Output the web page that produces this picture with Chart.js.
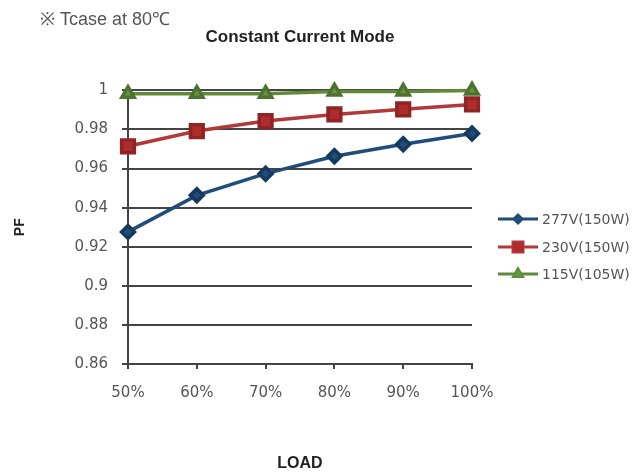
<!DOCTYPE html>
<html>
<head>
<meta charset="utf-8">
<script src="https://cdn.jsdelivr.net/npm/chart.js@4"></script>
<style>
  html, body { margin: 0; padding: 0; background: #fff; }
  #wrap { width: 643px; height: 475px; }
</style>
</head>
<body>
<div id="wrap"><canvas id="chart"></canvas></div>
<script>
const loads = ['50%', '60%', '70%', '80%', '90%', '100%'];
const pf277 = [0.9276, 0.9463, 0.9574, 0.9663, 0.9724, 0.9779];
const pf230 = [0.9714, 0.9792, 0.9843, 0.9877, 0.9903, 0.9928];
const pf115 = [0.9983, 0.9983, 0.9983, 0.9995, 0.9995, 1.0];
const seriesNames = ['277V(150W)', '230V(150W)', '115V(105W)'];
const noteText = '※ Tcase at 80℃';

const gridColor = '#444';

// note in the corner + legend drawn as line with marker, like the original
const extras = {
  id: 'extras',
  afterDraw(chart) {
    const ctx = chart.ctx;
    ctx.save();
    ctx.fillStyle = '#555';
    ctx.font = '18px "Liberation Sans", Arial, sans-serif';
    ctx.textBaseline = 'middle';
    ctx.textAlign = 'left';
    ctx.fillText(noteText, 40, 20);

    const rows = [219, 247, 274];
    chart.data.datasets.forEach((ds, i) => {
      const y = rows[i];
      ctx.strokeStyle = ds.borderColor;
      ctx.lineWidth = 3;
      ctx.beginPath();
      ctx.moveTo(498, y);
      ctx.lineTo(538, y);
      ctx.stroke();
      Chart.helpers.drawPoint(ctx, {
        pointStyle: ds.pointStyle,
        radius: ds.legendRadius,
        borderWidth: 1
      }, 518, y);
      ctx.fillStyle = ds.pointBackgroundColor;
      ctx.strokeStyle = ds.pointBorderColor;
      ctx.fill();
      ctx.fillStyle = '#555';
      ctx.font = '14px "DejaVu Sans", sans-serif';
      ctx.fillText(ds.label, 542, y + 1);
    });
    ctx.restore();
  }
};

new Chart(document.getElementById('chart'), {
  type: 'line',
  data: {
    labels: loads,
    datasets: [
      {
        label: seriesNames[0], data: pf277,
        borderColor: '#1f4c78', backgroundColor: '#1f4c78',
        pointBackgroundColor: '#1f4c78', pointBorderColor: '#163a5e',
        pointStyle: 'rectRot', pointRadius: 6.5, legendRadius: 4,
        borderWidth: 3.5, tension: 0, clip: false
      },
      {
        label: seriesNames[1], data: pf230,
        borderColor: '#b33838', backgroundColor: '#b33838',
        pointBackgroundColor: '#b02c2c', pointBorderColor: '#8e2424',
        pointStyle: 'rect', pointRadius: 9, legendRadius: 7,
        borderWidth: 3.5, tension: 0, clip: false
      },
      {
        label: seriesNames[2], data: pf115,
        borderColor: '#5f8a3a', backgroundColor: '#5f8a3a',
        pointBackgroundColor: '#6a933f', pointBorderColor: '#4d7230',
        pointStyle: 'triangle', pointRadius: 7, legendRadius: 5,
        borderWidth: 3.5, tension: 0, clip: false
      }
    ]
  },
  options: {
    responsive: true,
    maintainAspectRatio: false,
    animation: false,
    layout: { padding: { left: 8, right: 171, top: 0, bottom: 0 } },
    plugins: {
      legend: { display: false },
      tooltip: { enabled: false },
      title: {
        display: true,
        text: 'Constant Current Mode',
        fullSize: false,
        color: '#222',
        font: { family: '"Liberation Sans", Arial, sans-serif', size: 17, weight: 'bold' },
        padding: { top: 27, bottom: 43 }
      }
    },
    scales: {
      x: {
        offset: false,
        afterFit(scale) { scale.height = 111; },
        grid: { drawOnChartArea: false, drawTicks: true, tickLength: 5, color: gridColor, lineWidth: 2 },
        border: { color: gridColor, width: 2 },
        ticks: { color: '#555', padding: 15, font: { family: '"DejaVu Sans", sans-serif', size: 15 } },
        title: {
          display: true, text: 'LOAD', color: '#222',
          font: { family: '"Liberation Sans", Arial, sans-serif', size: 16, weight: 'bold' },
          padding: { top: 0, bottom: 2 }
        }
      },
      y: {
        min: 0.86,
        max: 1,
        afterFit(scale) { scale.width = 120; },
        grid: { color: gridColor, lineWidth: 2, tickLength: 6 },
        border: { color: gridColor, width: 2 },
        ticks: {
          stepSize: 0.02,
          color: '#555',
          padding: 14,
          font: { family: '"DejaVu Sans", sans-serif', size: 15 },
          callback: v => String(Number(v.toFixed(2)))
        },
        title: {
          display: true, text: 'PF', color: '#222',
          font: { family: '"Liberation Sans", Arial, sans-serif', size: 14, weight: 'bold' },
          padding: { top: 4, bottom: 0 }
        }
      }
    }
  },
  plugins: [extras]
});
</script>
</body>
</html>
